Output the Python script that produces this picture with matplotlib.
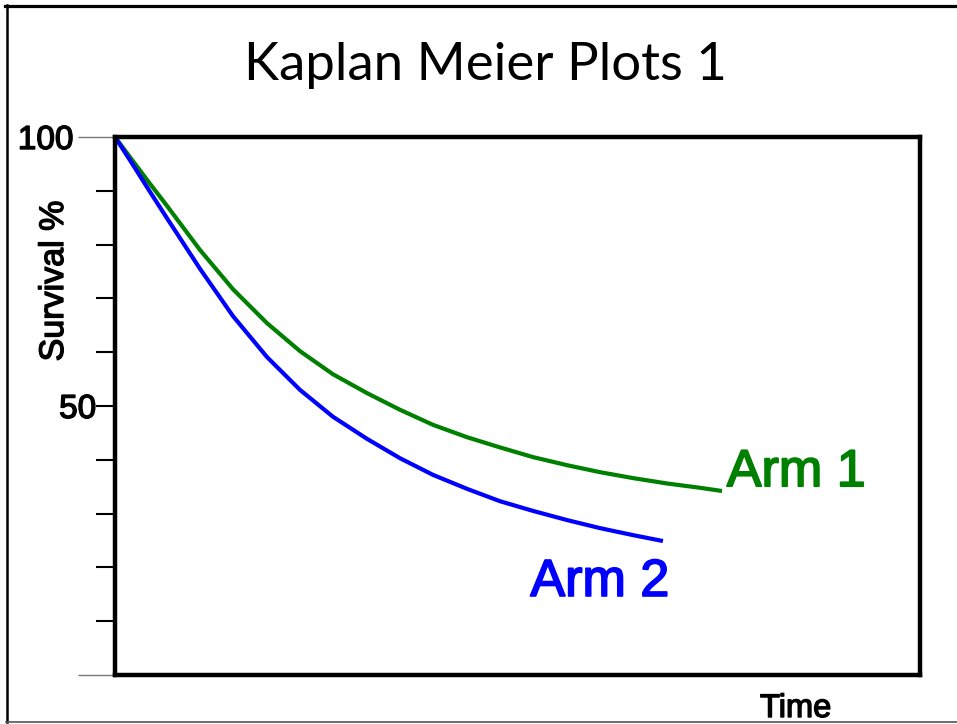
import matplotlib
matplotlib.use("Agg")
import matplotlib.pyplot as plt
from matplotlib.lines import Line2D
import matplotlib.patheffects as pe

# ---- data ----
arm1_time = [0, 2.24, 4.35, 6.46, 10.56, 14.66, 18.88, 22.98, 27.08, 31.30, 35.40,
             39.50, 43.73, 47.83, 51.93, 56.15, 60.25, 64.35, 68.57, 72.67, 75.40]
arm1_surv = [100, 95.5, 91.3, 87.2, 79.0, 71.7, 65.4, 60.2, 55.9, 52.4, 49.3,
             46.5, 44.2, 42.3, 40.5, 39.0, 37.7, 36.6, 35.6, 34.8, 34.2]
arm2_time = [0, 2.24, 4.35, 6.46, 10.56, 14.66, 18.88, 22.98, 27.08, 31.30, 35.40,
             39.50, 43.73, 47.83, 51.93, 56.15, 60.25, 64.35, 68.07]
arm2_surv = [100, 94.8, 89.8, 84.9, 75.5, 66.7, 59.1, 53.0, 48.0, 43.9, 40.3,
             37.2, 34.6, 32.3, 30.5, 28.8, 27.3, 26.0, 24.9]
major_ticks = [0, 100]
major_labels = ["", "100"]
minor_ticks = [10, 20, 30, 40, 50, 60, 70, 80, 90]
minor_labels = ["", "", "", "", "50", "", "", "", ""]
title = "Kaplan Meier Plots 1"
series_names = ["Arm 1", "Arm 2"]

W, H = 957, 724
fig = plt.figure(figsize=(W / 100, H / 100), dpi=100)


def fx(px):
    return px / W


def fy(py):
    return 1 - py / H


def heavy(color, w=1.3):
    return [pe.withStroke(linewidth=w, foreground=color)]


# figure frame lines (top thick, left, bottom thin)
fig.add_artist(Line2D([fx(5), fx(957)], [fy(6), fy(6)], color="black", lw=2.3,
                      transform=fig.transFigure))
fig.add_artist(Line2D([fx(6.5), fx(6.5)], [fy(5), fy(722)], color="black", lw=1.8,
                      transform=fig.transFigure))
fig.add_artist(Line2D([fx(6), fx(957)], [fy(722), fy(722)], color="#555555", lw=1.2,
                      transform=fig.transFigure))

ax = fig.add_axes([fx(115), fy(675), (920 - 115) / W, (675 - 137) / H])
ax.set_xlim(0, 100)
ax.set_ylim(0, 100)
for s in ax.spines.values():
    s.set_linewidth(3.2)
    s.set_color("black")

ax.plot(arm1_time, arm1_surv, color="#008000", lw=3.0, solid_capstyle="butt",
        solid_joinstyle="round")
ax.plot(arm2_time, arm2_surv, color="#0000ff", lw=3.0, solid_capstyle="butt",
        solid_joinstyle="round")

ax.set_xticks([])
ax.set_yticks(major_ticks, labels=major_labels)
ax.set_yticks(minor_ticks, labels=minor_labels, minor=True)
ax.tick_params(axis="y", which="major", length=27, width=1.0, color="#777777",
               pad=3, labelsize=24)
ax.tick_params(axis="y", which="minor", length=13.5, width=1.5, color="black",
               pad=0, labelsize=24)
for lab in ax.get_yticklabels(which="both"):
    lab.set_fontfamily("Liberation Sans")
    lab.set_path_effects(heavy("black", 1.0))

sans = "Liberation Sans"
ax.text(76.0, 35.1, series_names[0], color="#008000", fontsize=37.5, family=sans,
        ha="left", va="baseline", path_effects=heavy("#008000"))
ax.text(51.6, 14.7, series_names[1], color="#0000ff", fontsize=37.5, family=sans,
        ha="left", va="baseline", path_effects=heavy("#0000ff"))

fig.text(fx(63), fy(281), "Survival %", rotation=90, fontsize=24.5, family=sans,
         ha="center", va="baseline", rotation_mode="anchor",
         path_effects=heavy("black", 1.0))
fig.text(fx(760), fy(717), "Time", fontsize=23.5, family=sans,
         ha="left", va="baseline", path_effects=heavy("black", 1.0))
fig.text(fx(485.5), fy(80), title, fontsize=38, family=["Lato", "DejaVu Sans"],
         ha="center", va="baseline")

fig.savefig("out.png", dpi=100)
